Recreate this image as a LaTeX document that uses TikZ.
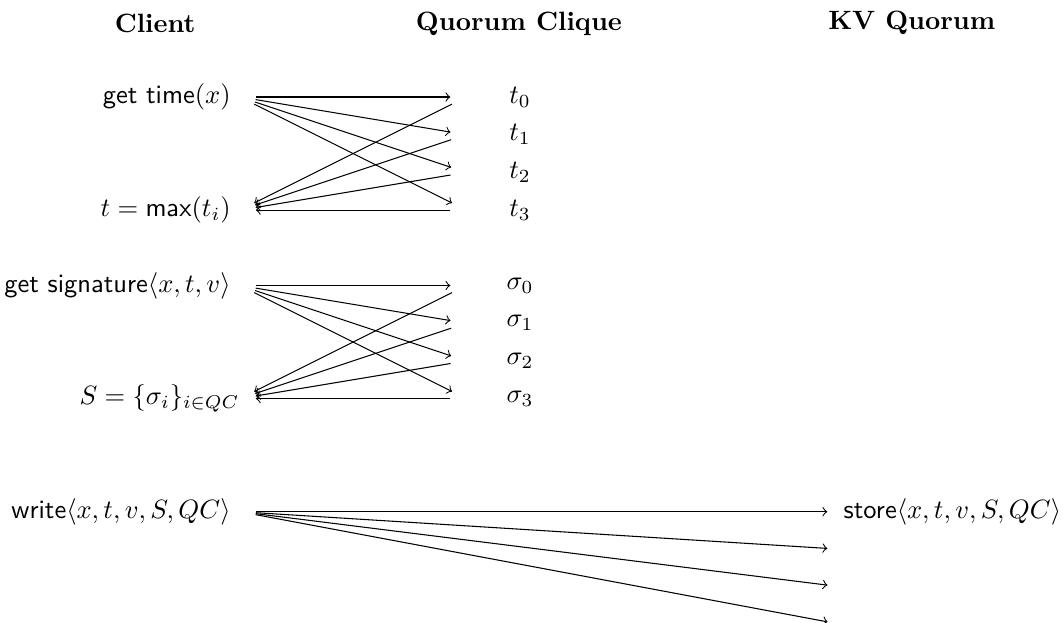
\documentclass[tikz,border=0pt]{standalone}
\usetikzlibrary{positioning}

\begin{document}
\begin{tikzpicture}[x=0.5cm, y=0.5cm,
  head/.style={font=\bfseries},
  cli/.style={anchor=east},
  msg/.style={->, shorten <=6pt, shorten >=6pt}]
\useasboundingbox (-6.366,2.573) rectangle (21.83,-13.952);
% column heads
\node[head] (hcli) at (-2.25,1.95) {Client};
\node[head] (hqc) at (7.4,1.95) {Quorum Clique};
\node[head] (hkv) at (17.82,1.98) {KV Quorum};
% client
\node[cli] (gettime) at (0,0) {\textsf{get time}$(x)$};
\node[cli] (tmax) at (0,-3) {$t=\mathsf{max}(t_i)$};
\node[cli] (getsig) at (0,-5) {\textsf{get signature}$\langle x,t,v\rangle$};
\node[cli, inner xsep=0pt] (sigset) at (0,-8) {$S=\{\sigma_i\}_{i\in QC}$};
\node[cli] (write) at (0,-11) {\textsf{write}$\langle x,t,v,S,QC\rangle$};
% quorum clique
\coordinate (qt0) at (6,0);
\coordinate (qt1) at (6,-1);
\coordinate (qt2) at (6,-2);
\coordinate (qt3) at (6,-3);
\node (t0) at (7.43,0) {$t_0$};
\node (t1) at (7.43,-1) {$t_1$};
\node (t2) at (7.43,-2) {$t_2$};
\node (t3) at (7.43,-3) {$t_3$};
\coordinate (qs0) at (6,-5);
\coordinate (qs1) at (6,-6);
\coordinate (qs2) at (6,-7);
\coordinate (qs3) at (6,-8);
\node (s0) at (7.43,-5) {$\sigma_0$};
\node (s1) at (7.43,-6) {$\sigma_1$};
\node (s2) at (7.43,-7) {$\sigma_2$};
\node (s3) at (7.43,-8) {$\sigma_3$};
% kv quorum
\coordinate (kv0) at (16,-11);
\coordinate (kv1) at (16,-12);
\coordinate (kv2) at (16,-13);
\coordinate (kv3) at (16,-14);
\node[right=0pt of kv0, inner sep=0pt] (store) {\textsf{store}$\langle x,t,v,S,QC\rangle$};
% time round
\draw[msg] (gettime.east) -- (qt0);
\draw[msg] (gettime.east) -- (qt1);
\draw[msg] (gettime.east) -- (qt2);
\draw[msg] (gettime.east) -- (qt3);
\draw[msg] (qt0) -- (tmax.east);
\draw[msg] (qt1) -- (tmax.east);
\draw[msg] (qt2) -- (tmax.east);
\draw[msg] (qt3) -- (tmax.east);
% signature round
\draw[msg] (getsig.east) -- (qs0);
\draw[msg] (getsig.east) -- (qs1);
\draw[msg] (getsig.east) -- (qs2);
\draw[msg] (getsig.east) -- (qs3);
\draw[msg] (qs0) -- (sigset.east);
\draw[msg] (qs1) -- (sigset.east);
\draw[msg] (qs2) -- (sigset.east);
\draw[msg] (qs3) -- (sigset.east);
% write round
\draw[msg] (write.east) -- (kv0);
\draw[msg] (write.east) -- (kv1);
\draw[msg] (write.east) -- (kv2);
\draw[msg] (write.east) -- (kv3);
\end{tikzpicture}
\end{document}
